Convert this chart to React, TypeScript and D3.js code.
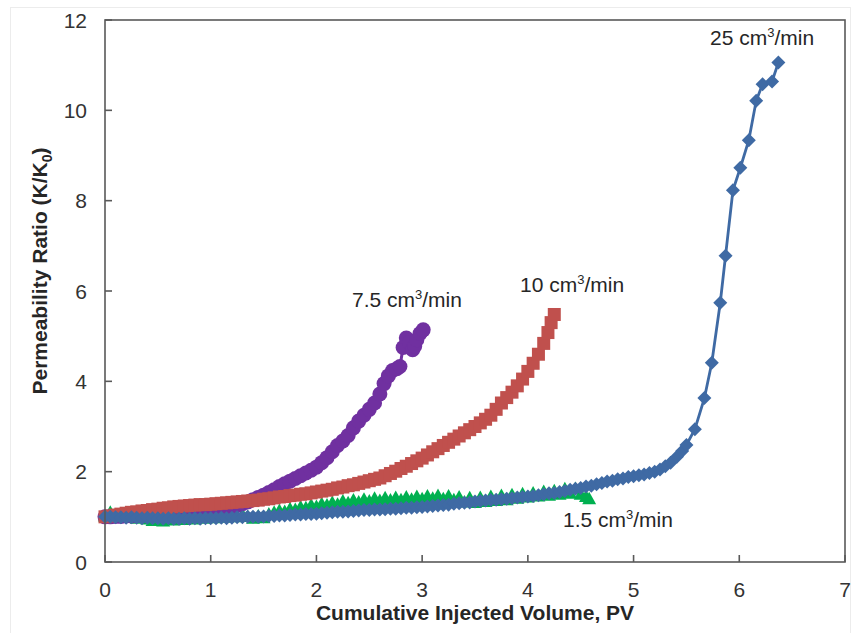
import React from "react";
import * as d3 from "d3";

// ---- data ----
const xTicks = [0, 1, 2, 3, 4, 5, 6, 7];
const yTicks = [0, 2, 4, 6, 8, 10, 12];

// 25 cm3/min (blue diamonds)
const q25X = [0.00,0.05,0.10,0.15,0.20,0.25,0.30,0.35,0.40,0.45,0.50,0.55,0.60,0.65,0.70,0.75,0.80,0.85,0.90,0.95,1.00,1.05,1.10,1.15,1.20,1.25,1.30,1.35,1.40,1.45,1.50,1.55,1.60,1.65,1.70,1.75,1.80,1.85,1.90,1.95,2.00,2.05,2.10,2.15,2.20,2.25,2.30,2.35,2.40,2.45,2.50,2.55,2.60,2.65,2.70,2.75,2.80,2.85,2.90,2.95,3.00,3.05,3.10,3.15,3.20,3.25,3.30,3.35,3.40,3.45,3.50,3.55,3.60,3.65,3.70,3.75,3.80,3.85,3.90,3.95,4.00,4.05,4.10,4.15,4.20,4.25,4.30,4.35,4.40,4.45,4.50,4.55,4.60,4.65,4.70,4.75,4.80,4.85,4.90,4.95,5.00,5.05,5.10,5.15,5.20,5.25,5.30,5.35,5.41,5.46,5.50,5.58,5.67,5.74,5.82,5.87,5.94,6.01,6.09,6.16,6.22,6.31,6.37];
const q25Y = [1.00,1.00,0.99,0.99,0.98,0.99,0.98,0.97,0.98,0.97,0.97,0.96,0.97,0.96,0.96,0.97,0.96,0.97,0.96,0.97,0.97,0.97,0.98,0.97,0.98,0.99,0.99,1.00,1.00,1.00,1.01,1.02,1.02,1.03,1.03,1.04,1.05,1.05,1.06,1.06,1.07,1.08,1.09,1.10,1.11,1.11,1.12,1.13,1.14,1.15,1.15,1.16,1.16,1.17,1.18,1.18,1.19,1.20,1.20,1.21,1.22,1.23,1.24,1.25,1.26,1.27,1.29,1.30,1.31,1.32,1.34,1.35,1.36,1.37,1.38,1.39,1.40,1.41,1.43,1.44,1.45,1.46,1.48,1.50,1.52,1.53,1.55,1.57,1.60,1.62,1.64,1.67,1.69,1.72,1.75,1.78,1.80,1.83,1.85,1.88,1.90,1.92,1.94,1.97,2.00,2.05,2.12,2.20,2.33,2.46,2.59,2.94,3.63,4.41,5.74,6.78,8.23,8.73,9.34,10.21,10.58,10.64,11.06];

// 10 cm3/min (red squares)
const q10X = [0.00,0.05,0.10,0.15,0.20,0.25,0.30,0.35,0.40,0.45,0.50,0.55,0.60,0.65,0.70,0.75,0.80,0.85,0.90,0.95,1.00,1.05,1.10,1.15,1.20,1.25,1.30,1.35,1.40,1.45,1.50,1.55,1.60,1.65,1.70,1.75,1.80,1.85,1.90,1.95,2.00,2.05,2.10,2.15,2.20,2.25,2.30,2.35,2.40,2.45,2.50,2.55,2.60,2.65,2.70,2.75,2.80,2.85,2.90,2.95,3.00,3.05,3.10,3.15,3.20,3.25,3.30,3.35,3.40,3.45,3.50,3.55,3.60,3.65,3.70,3.75,3.80,3.85,3.90,3.95,4.00,4.05,4.10,4.15,4.19,4.22,4.25];
const q10Y = [1.00,1.02,1.04,1.06,1.08,1.10,1.11,1.13,1.14,1.16,1.17,1.19,1.20,1.22,1.23,1.24,1.25,1.26,1.27,1.27,1.28,1.29,1.30,1.31,1.32,1.33,1.34,1.35,1.36,1.37,1.39,1.40,1.42,1.44,1.45,1.47,1.48,1.50,1.51,1.53,1.55,1.57,1.59,1.61,1.64,1.66,1.69,1.71,1.74,1.77,1.80,1.83,1.86,1.91,1.96,2.01,2.07,2.12,2.18,2.24,2.30,2.37,2.44,2.51,2.58,2.65,2.72,2.79,2.86,2.93,3.00,3.08,3.16,3.25,3.38,3.52,3.64,3.76,3.90,4.05,4.22,4.40,4.60,4.84,5.08,5.30,5.48];

// 7.5 cm3/min (purple circles)
const q75X = [0.00,0.05,0.10,0.15,0.20,0.25,0.30,0.35,0.40,0.45,0.50,0.55,0.60,0.65,0.70,0.75,0.80,0.85,0.90,0.95,1.00,1.05,1.10,1.15,1.20,1.25,1.30,1.35,1.40,1.45,1.50,1.55,1.60,1.65,1.70,1.75,1.80,1.85,1.90,1.95,2.00,2.05,2.10,2.15,2.20,2.25,2.30,2.35,2.40,2.45,2.50,2.55,2.60,2.64,2.68,2.72,2.76,2.79,2.82,2.85,2.88,2.91,2.93,2.95,2.98,3.01];
const q75Y = [1.00,1.00,1.01,1.01,1.02,1.02,1.03,1.03,1.04,1.05,1.05,1.06,1.07,1.08,1.09,1.10,1.11,1.12,1.13,1.14,1.15,1.16,1.18,1.20,1.22,1.25,1.29,1.33,1.38,1.43,1.48,1.54,1.60,1.67,1.73,1.79,1.85,1.91,1.97,2.03,2.10,2.20,2.31,2.44,2.58,2.68,2.80,2.97,3.12,3.25,3.38,3.52,3.72,3.95,4.12,4.24,4.28,4.33,4.75,4.96,4.86,4.70,4.78,4.92,5.06,5.14];

// 1.5 cm3/min (green triangles)
const q15X = [0.00,0.05,0.10,0.15,0.20,0.25,0.30,0.35,0.40,0.45,0.50,0.55,0.60,0.65,0.70,0.75,0.80,0.85,0.90,0.95,1.00,1.05,1.10,1.15,1.20,1.25,1.30,1.35,1.40,1.45,1.50,1.55,1.60,1.65,1.70,1.75,1.80,1.85,1.90,1.95,2.00,2.05,2.10,2.15,2.20,2.25,2.30,2.35,2.40,2.45,2.50,2.55,2.60,2.65,2.70,2.75,2.80,2.85,2.90,2.95,3.00,3.05,3.10,3.15,3.20,3.25,3.30,3.35,3.40,3.45,3.50,3.55,3.60,3.65,3.70,3.75,3.80,3.85,3.90,3.95,4.00,4.05,4.10,4.15,4.20,4.25,4.30,4.35,4.40,4.45,4.50,4.55,4.58];
const q15Y = [1.02,1.10,1.00,1.06,0.99,1.04,0.97,1.02,0.95,0.92,0.96,0.91,0.95,0.93,0.97,0.94,0.99,0.95,1.00,0.97,1.02,0.98,1.03,0.99,1.04,1.00,1.05,1.01,0.97,1.02,0.98,1.06,1.10,1.14,1.12,1.18,1.16,1.22,1.20,1.26,1.23,1.29,1.26,1.32,1.28,1.35,1.31,1.37,1.33,1.39,1.35,1.41,1.36,1.42,1.37,1.43,1.38,1.44,1.39,1.45,1.40,1.46,1.41,1.47,1.40,1.46,1.38,1.44,1.33,1.42,1.32,1.43,1.34,1.45,1.36,1.47,1.38,1.49,1.41,1.51,1.44,1.53,1.46,1.56,1.48,1.58,1.50,1.62,1.52,1.63,1.50,1.45,1.40];

const seriesLabels = ["25 cm", "10 cm", "7.5 cm", "1.5 cm"];

const W = 859;
const H = 633;
const M = { left: 105, top: 20, right: 845, bottom: 562 };

const FONT = "'Liberation Sans', Arial, Helvetica, sans-serif";
const BLUE = "#3f6aa4";
const RED = "#c0504d";
const GREEN = "#00b050";
const PURPLE = "#7030a0";

type P = [number, number];
const zip = (xs: number[], ys: number[]): P[] => xs.map((x, i) => [x, ys[i]]);

export default function App() {
  const x = d3.scaleLinear().domain([0, 7]).range([M.left, M.right]);
  const y = d3.scaleLinear().domain([0, 12]).range([M.bottom, M.top]);
  const line = d3
    .line<P>()
    .x((d) => x(d[0]))
    .y((d) => y(d[1]));

  const blue = zip(q25X, q25Y);
  const red = zip(q10X, q10Y);
  const purple = zip(q75X, q75Y);
  const green = zip(q15X, q15Y);

  const tri = (cx: number, cy: number) =>
    `M${cx},${cy - 7}L${cx + 7},${cy + 5.5}L${cx - 7},${cy + 5.5}Z`;
  const dia = (cx: number, cy: number) =>
    `M${cx},${cy - 7}L${cx + 7},${cy}L${cx},${cy + 7}L${cx - 7},${cy}Z`;

  const label = (txt: string, lx: number, ly: number) => (
    <text x={lx} y={ly} fontFamily={FONT} fontSize={21} fill="#262626">
      {txt}
      <tspan fontSize={13} dy={-8}>3</tspan>
      <tspan dy={8}>/min</tspan>
    </text>
  );

  return (
    <svg
      width={W}
      height={H}
      style={{ position: "absolute", left: 0, top: 0, background: "#fff" }}
    >
      <rect x={10.5} y={7.5} width={840} height={640} fill="none" stroke="#ececec" />

      {/* series: green, purple, red, blue */}
      <path d={line(green) || ""} fill="none" stroke={GREEN} strokeWidth={3} />
      {green.map((d, i) => (
        <path key={"g" + i} d={tri(x(d[0]), y(d[1]))} fill={GREEN} />
      ))}
      <path d={line(purple) || ""} fill="none" stroke={PURPLE} strokeWidth={3} />
      {purple.map((d, i) => (
        <circle key={"p" + i} cx={x(d[0])} cy={y(d[1])} r={7.5} fill={PURPLE} />
      ))}
      <path d={line(red) || ""} fill="none" stroke={RED} strokeWidth={3} />
      {red.map((d, i) => (
        <rect key={"r" + i} x={x(d[0]) - 6.5} y={y(d[1]) - 6.5} width={13} height={13} fill={RED} />
      ))}
      <path d={line(blue) || ""} fill="none" stroke={BLUE} strokeWidth={2.8} />
      {blue.map((d, i) => (
        <path key={"b" + i} d={dia(x(d[0]), y(d[1]))} fill={BLUE} />
      ))}

      {/* frame */}
      <rect
        x={M.left}
        y={M.top}
        width={M.right - M.left}
        height={M.bottom - M.top}
        fill="none"
        stroke="#595959"
        strokeWidth={1.6}
      />
      {yTicks.map((t) => (
        <g key={"yt" + t}>
          <line x1={M.left} x2={M.left + 7} y1={y(t)} y2={y(t)} stroke="#595959" strokeWidth={1.6} />
          <text
            x={87}
            y={y(t) + 7.5}
            textAnchor="end"
            fontFamily={FONT}
            fontSize={21}
            fill="#333"
          >
            {t}
          </text>
        </g>
      ))}
      {xTicks.map((t) => (
        <g key={"xt" + t}>
          <line x1={x(t)} x2={x(t)} y1={M.bottom} y2={M.bottom - 7} stroke="#595959" strokeWidth={1.6} />
          <text
            x={x(t)}
            y={597}
            textAnchor="middle"
            fontFamily={FONT}
            fontSize={21}
            fill="#333"
          >
            {t}
          </text>
        </g>
      ))}

      <text
        x={(M.left + M.right) / 2}
        y={620}
        textAnchor="middle"
        fontFamily={FONT}
        fontSize={21}
        fontWeight="bold"
        fill="#262626"
      >
        Cumulative Injected Volume, PV
      </text>
      <text
        transform={`translate(47,271) rotate(-90)`}
        textAnchor="middle"
        fontFamily={FONT}
        fontSize={21}
        fontWeight="bold"
        fill="#262626"
      >
        Permeability Ratio (K/K
        <tspan fontSize={14} dy={5}>0</tspan>
        <tspan dy={-5}>)</tspan>
      </text>

      {label(seriesLabels[0], 710, 45)}
      {label(seriesLabels[1], 520, 292)}
      {label(seriesLabels[2], 352, 307)}
      {label(seriesLabels[3], 563, 527)}
    </svg>
  );
}
